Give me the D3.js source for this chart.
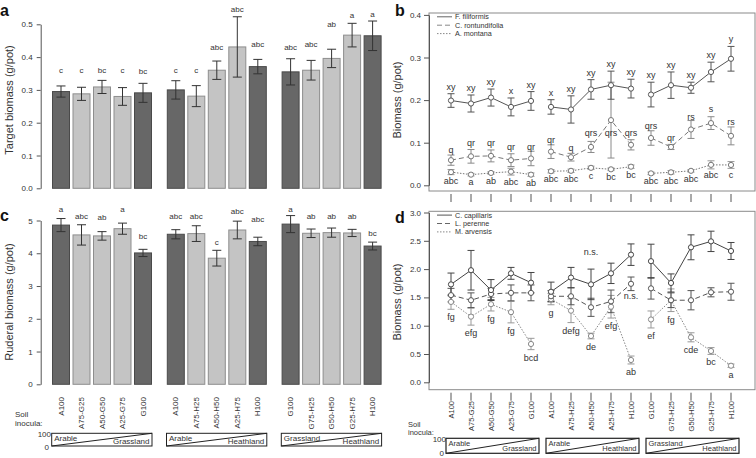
<!DOCTYPE html>
<html><head><meta charset="utf-8">
<script src="https://cdn.jsdelivr.net/npm/d3@7"></script>
<style>body{margin:0;background:#fff}svg{display:block;font-family:"Liberation Sans",Arial,sans-serif}</style>
</head><body><svg id="chart" width="756" height="458"></svg>
<script>
// ---------- data ----------
const treatments = ["A100","A75-G25","A50-G50","A25-G75","G100","A100","A75-H25","A50-H50","A25-H75","H100","G100","G75-H25","G50-H50","G25-H75","H100"];
const pureInoculum = [1,0,0,0,1, 1,0,0,0,1, 1,0,0,0,1];
const gradientEnds = [["Arable","Grassland"],["Arable","Heathland"],["Grassland","Heathland"]];

const targetMean = [0.295,0.288,0.309,0.280,0.291, 0.300,0.281,0.360,0.431,0.371, 0.355,0.360,0.396,0.467,0.465];
const targetSE   = [0.017,0.020,0.020,0.027,0.029, 0.028,0.032,0.028,0.092,0.022, 0.040,0.030,0.028,0.036,0.045];
const targetLetters = ["c","c","bc","c","bc","c","c","abc","abc","abc","abc","abc","ab","a","a"];
const targetLetterAt = [0.36,0.36,0.36,0.36,0.355, 0.36,0.36,0.428,0.544,0.439, 0.43,0.439,0.498,0.528,0.53];

const ruderalMean = [4.86,4.56,4.53,4.75,4.01, 4.58,4.60,3.85,4.71,4.36, 4.89,4.61,4.63,4.62,4.22];
const ruderalSE   = [0.20,0.31,0.13,0.17,0.11, 0.14,0.24,0.24,0.27,0.13, 0.26,0.13,0.14,0.11,0.12];
const ruderalLetters = ["a","abc","ab","a","bc","abc","abc","c","abc","abc","a","ab","ab","ab","bc"];
const ruderalLetterAt = [5.35,5.12,5.10,5.35,4.50, 5.12,5.12,4.34,5.27,5.03, 5.35,5.12,5.12,5.12,4.61];

const filiformisMean = [0.199,0.192,0.206,0.184,0.198, 0.184,0.178,0.225,0.235,0.227, 0.213,0.235,0.229,0.266,0.297];
const filiformisSE   = [0.016,0.020,0.020,0.021,0.022, 0.017,0.032,0.023,0.033,0.022, 0.029,0.031,0.013,0.023,0.029];
const filiformisLetters = ["xy","xy","xy","x","xy","x","xy","xy","xy","xy","xy","xy","xy","xy","y"];

const rotundifoliaMean = [0.059,0.068,0.069,0.059,0.063, 0.079,0.066,0.090,0.153,0.095, 0.111,0.090,0.131,0.146,0.116];
const rotundifoliaSE   = [0.012,0.016,0.014,0.015,0.017, 0.016,0.009,0.013,0.089,0.012, 0.017,0.006,0.021,0.015,0.021];
const rotundifoliaLetters = ["q","qr","qr","qr","qr","qr","q","qrs","qrs","qrs","qrs","qr","rs","s","rs"];
const rotundifoliaLetterAt = [0.083,0.099,0.099,0.089,0.089, 0.106,0.087,0.122,0.1235,0.1235, 0.1385,0.112,0.161,0.180,0.148];

const montanaMean = [0.031,0.025,0.029,0.032,0.025, 0.033,0.034,0.041,0.0375,0.0437, 0.028,0.0305,0.034,0.048,0.0477];
const montanaSE   = [0.006,0.003,0.003,0.008,0.004, 0.004,0.004,0.004,0.003,0.004, 0.003,0.004,0.003,0.0095,0.008];
const montanaLetters = ["abc","a","ab","abc","ab","abc","abc","c","bc","bc","abc","abc","abc","abc","c"];

const capillarisMean = [1.73,1.98,1.63,1.925,1.76, 1.60,1.85,1.73,1.925,2.255, 2.14,1.755,2.385,2.49,2.32];
const capillarisSE   = [0.20,0.35,0.185,0.105,0.18, 0.17,0.18,0.27,0.18,0.19, 0.30,0.16,0.22,0.18,0.15];
const perenneMean = [1.54,1.45,1.56,1.58,1.58, 1.52,1.52,1.325,1.43,1.74, 1.66,1.45,1.45,1.59,1.60];
const perenneSE   = [0.12,0.13,0.10,0.14,0.14, 0.10,0.15,0.16,0.20,0.12, 0.19,0.13,0.17,0.08,0.15];
const arvensisMean = [1.42,1.16,1.38,1.24,0.677, 1.47,1.265,0.818,1.335,0.394, 1.11,1.45,0.795,0.553,0.293];
const arvensisSE   = [0.13,0.15,0.12,0.19,0.10, 0.10,0.21,0.05,0.20,0.07, 0.15,0.20,0.08,0.06,0.03];
const arvensisLetters = ["fg","efg","fg","fg","bcd","g","defg","de","efg","ab","ef","fg","cde","bc","a"];
const nsNotes = [{i:7, v:2.30}, {i:9, v:1.525}];

const ticksA = [0,0.1,0.2,0.3,0.4,0.5];
const ticksB = [0,0.1,0.2,0.3,0.4];
const ticksC = [0,1,2,3,4,5];
const ticksD = [0,0.5,1,1.5,2,2.5,3];

// ---------- drawing ----------
const svg = d3.select("#chart");
const idx = d3.range(15);
const AX = "#555", TXT = "#333";

const barPos = k => Math.floor(k/5)*5.6 + k%5;
const xAC = d3.scaleLinear().domain([0,15.2]).range([61,372.6]);
const xBD = d3.scaleLinear().domain([0,14]).range([451,731]);
const yA = d3.scaleLinear().domain([0,0.5]).range([188.3,24.3]);
const yC = d3.scaleLinear().domain([0,5]).range([384.3,220.5]);
const yB = d3.scaleLinear().domain([0,0.4]).range([185.3,14.9]);
const yD = d3.scaleLinear().domain([0,3]).range([382.3,212.5]);

function styleAxis(g, fs){
  g.selectAll("path.domain").attr("stroke",AX);
  g.selectAll(".tick line").attr("stroke",AX);
  g.selectAll(".tick text").attr("fill",TXT).attr("font-size",fs).attr("font-family","Liberation Sans, Arial, sans-serif");
}
function panelLetter(t,x,y){
  svg.append("text").attr("x",x).attr("y",y).attr("font-size",16).attr("font-weight","bold").attr("fill","#111").text(t);
}
function yTitle(t,x,y){
  svg.append("text").attr("transform",`translate(${x},${y}) rotate(-90)`).attr("text-anchor","middle")
    .attr("dominant-baseline","central").attr("font-size",11).attr("fill",TXT).text(t);
}

function barPanel(mean, se, letters, letterAt, y, ticks, fmt, xLabelTop){
  const g = svg.append("g");
  const bw = 17;
  g.selectAll("rect.bar").data(idx).join("rect")
    .attr("x", k => xAC(barPos(k)) - bw/2).attr("width", bw)
    .attr("y", k => y(mean[k])).attr("height", k => y(0) - y(mean[k]))
    .attr("fill", k => pureInoculum[k] ? "#676767" : "#c4c4c4")
    .attr("stroke", k => pureInoculum[k] ? "#4a4a4a" : "#8e8e8e").attr("stroke-width",1);
  const eb = g.selectAll("g.eb").data(idx).join("g").attr("stroke","#333").attr("stroke-width",1);
  eb.append("line").attr("x1",k=>xAC(barPos(k))).attr("x2",k=>xAC(barPos(k)))
    .attr("y1",k=>y(mean[k]-se[k])).attr("y2",k=>y(mean[k]+se[k]));
  [1,-1].forEach(s=>eb.append("line").attr("x1",k=>xAC(barPos(k))-4.5).attr("x2",k=>xAC(barPos(k))+4.5)
    .attr("y1",k=>y(mean[k]+s*se[k])).attr("y2",k=>y(mean[k]+s*se[k])));
  g.selectAll("text.let").data(idx).join("text")
    .attr("x",k=>xAC(barPos(k))).attr("y",k=>y(letterAt[k])).attr("text-anchor","middle")
    .attr("dominant-baseline","central").attr("font-size",8).attr("fill",TXT).text(k=>letters[k]);
  const ax = svg.append("g").attr("transform","translate(40.7,0)")
    .call(d3.axisLeft(y).tickValues(ticks).tickFormat(fmt).tickSize(4).tickSizeOuter(0).tickPadding(4));
  styleAxis(ax, 8);
  if (xLabelTop){
    g.selectAll("text.xl").data(idx).join("text")
      .attr("transform",k=>`translate(${xAC(barPos(k))},${xLabelTop}) rotate(-90)`)
      .attr("text-anchor","end").attr("dominant-baseline","central").attr("font-size",8).attr("fill",TXT)
      .text(k=>treatments[k]);
  }
}

function errBars(g, x, y, mean, se, color, cap){
  const eb = g.append("g").attr("stroke",color).attr("stroke-width",1);
  idx.forEach(k=>{
    const cx = x(k), t = y(mean[k]+se[k]), b = y(mean[k]-se[k]);
    eb.append("line").attr("x1",cx).attr("x2",cx).attr("y1",t).attr("y2",b);
    eb.append("line").attr("x1",cx-cap).attr("x2",cx+cap).attr("y1",t).attr("y2",t);
    eb.append("line").attr("x1",cx-cap).attr("x2",cx+cap).attr("y1",b).attr("y2",b);
  });
}
function seriesLine(g, x, y, mean, color, dash){
  const line = d3.line().x(k=>x(k)).y(k=>y(mean[k]));
  [0,1,2].forEach(gr=>{
    g.append("path").attr("d", line(d3.range(gr*5, gr*5+5))).attr("fill","none")
      .attr("stroke",color).attr("stroke-width",1).attr("stroke-dasharray",dash);
  });
  g.selectAll(null).data(idx).join("circle").attr("cx",k=>x(k)).attr("cy",k=>y(mean[k])).attr("r",2.6)
    .attr("fill","#fff").attr("stroke",color).attr("stroke-width",1);
}
function linePanel(y, ticks, fmt, top, bottom, legend){
  const g = svg.append("g");
  g.append("rect").attr("x",429).attr("y",top).attr("width",326).attr("height",bottom-top)
    .attr("fill","none").attr("stroke","#8a8a8a").attr("stroke-width",1);
  const ax = svg.append("g").attr("transform","translate(429,0)")
    .call(d3.axisLeft(y).tickValues(ticks).tickFormat(fmt).tickSize(5).tickSizeOuter(0).tickPadding(3));
  styleAxis(ax, 8);
  g.selectAll("line.xt").data(idx).join("line").attr("x1",k=>xBD(k)).attr("x2",k=>xBD(k))
    .attr("y1",bottom+3).attr("y2",bottom+11).attr("stroke",AX);
  legend.forEach((l,j)=>{
    const ly = top + 3.8 + j*8.4;
    g.append("line").attr("x1",437).attr("x2",452).attr("y1",ly).attr("y2",ly)
      .attr("stroke",l.color).attr("stroke-dasharray",l.dash);
    g.append("text").attr("x",455).attr("y",ly).attr("dominant-baseline","central")
      .attr("font-size",7.2).attr("fill",TXT).text(l.name);
  });
  return g;
}
function gradientBoxes(x0s, x1s, top, bottom, fs, thick){
  gradientEnds.forEach((ends,gr)=>{
    const x0 = x0s[gr], x1 = x1s[gr];
    svg.append("rect").attr("x",x0).attr("y",top).attr("width",x1-x0).attr("height",bottom-top)
      .attr("fill","#fff").attr("stroke","#222").attr("stroke-width",thick);
    svg.append("line").attr("x1",x0).attr("y1",bottom).attr("x2",x1).attr("y2",top).attr("stroke","#222");
    svg.append("text").attr("x",x0+2.5).attr("y",top+fs).attr("font-size",fs).attr("fill",TXT).text(ends[0]);
    svg.append("text").attr("x",x1-2.5).attr("y",bottom-2).attr("text-anchor","end").attr("font-size",fs).attr("fill",TXT).text(ends[1]);
  });
}

// Panel a
barPanel(targetMean, targetSE, targetLetters, targetLetterAt, yA, ticksA, d3.format(".1f"), null);
panelLetter("a",0,16);
yTitle("Target biomass (g/pot)",9,100);

// Panel c
barPanel(ruderalMean, ruderalSE, ruderalLetters, ruderalLetterAt, yC, ticksC, d3.format("d"), 397);
panelLetter("c",0,221);
yTitle("Ruderal biomass (g/pot)",9,302);
svg.append("text").attr("x",15).attr("y",417).attr("font-size",8).attr("fill",TXT).text("Soil");
svg.append("text").attr("x",15).attr("y",425.5).attr("font-size",8).attr("fill",TXT).text("inocula:");
svg.append("text").attr("x",51).attr("y",437).attr("text-anchor","end").attr("font-size",8).attr("fill",TXT).text("100");
svg.append("text").attr("x",49).attr("y",449.5).attr("text-anchor","end").attr("font-size",8).attr("fill",TXT).text("0");
gradientBoxes([0,5,10].map(k=>xAC(barPos(k))-9.3), [4,9,14].map(k=>xAC(barPos(k))+9), 433.3, 446, 8, 1);

// Panel b
{
  const g = linePanel(yB, ticksB, d3.format(".1f"), 13, 191, [
    {name:"F. filiformis", color:"#666", dash:null},
    {name:"C. rontundifolia", color:"#888", dash:"5,3"},
    {name:"A. montana", color:"#888", dash:"1.5,1.5"}]);
  errBars(g, xBD, yB, montanaMean, montanaSE, "#999", 3.5);
  errBars(g, xBD, yB, rotundifoliaMean, rotundifoliaSE, "#8a8a8a", 3.5);
  errBars(g, xBD, yB, filiformisMean, filiformisSE, "#555", 3.5);
  seriesLine(g, xBD, yB, montanaMean, "#777", "1.5,1.5");
  seriesLine(g, xBD, yB, rotundifoliaMean, "#777", "5,3");
  seriesLine(g, xBD, yB, filiformisMean, "#555", null);
  const lab = (arr, yfun) => g.selectAll(null).data(idx).join("text").attr("x",k=>xBD(k)).attr("y",yfun)
      .attr("text-anchor","middle").attr("dominant-baseline","central").attr("font-size",9).attr("fill",TXT).text(k=>arr[k]);
  lab(filiformisLetters, k=>yB(filiformisMean[k]+filiformisSE[k]) - 7);
  lab(rotundifoliaLetters, k=>yB(rotundifoliaLetterAt[k]));
  lab(montanaLetters, k=>yB(montanaMean[k]-montanaSE[k]) + 6.5);
}
panelLetter("b",395,16);
yTitle("Biomass (g/pot)",397,100);

// Panel d
{
  const g = linePanel(yD, ticksD, d3.format(".1f"), 211.3, 389.7, [
    {name:"C. capillaris", color:"#555", dash:null},
    {name:"L. perenne", color:"#666", dash:"5,3"},
    {name:"M. arvensis", color:"#888", dash:"1.5,1.5"}]);
  errBars(g, xBD, yD, arvensisMean, arvensisSE, "#999", 3.5);
  errBars(g, xBD, yD, perenneMean, perenneSE, "#555", 3.5);
  errBars(g, xBD, yD, capillarisMean, capillarisSE, "#444", 3.5);
  seriesLine(g, xBD, yD, arvensisMean, "#888", "1.5,1.5");
  seriesLine(g, xBD, yD, perenneMean, "#555", "5,3");
  seriesLine(g, xBD, yD, capillarisMean, "#444", null);
  g.selectAll(null).data(idx).join("text").attr("x",k=>xBD(k)).attr("y",k=>yD(arvensisMean[k]-arvensisSE[k])+8)
    .attr("text-anchor","middle").attr("dominant-baseline","central").attr("font-size",9).attr("fill",TXT).text(k=>arvensisLetters[k]);
  nsNotes.forEach(n=>g.append("text").attr("x",xBD(n.i)).attr("y",yD(n.v)).attr("text-anchor","middle")
    .attr("dominant-baseline","central").attr("font-size",9).attr("fill",TXT).text("n.s."));
  g.selectAll(null).data(idx).join("text")
    .attr("transform",k=>`translate(${xBD(k)},401) rotate(-90)`)
    .attr("text-anchor","end").attr("dominant-baseline","central").attr("font-size",7.5).attr("fill",TXT)
    .text(k=>treatments[k]);
}
panelLetter("d",395,223);
yTitle("Biomass (g/pot)",397,302);
svg.append("text").attr("x",408).attr("y",427).attr("font-size",7.5).attr("fill",TXT).text("Soil");
svg.append("text").attr("x",408).attr("y",434.5).attr("font-size",7.5).attr("fill",TXT).text("inocula:");
svg.append("text").attr("x",446).attr("y",442).attr("text-anchor","end").attr("font-size",8).attr("fill",TXT).text("100");
svg.append("text").attr("x",444).attr("y",456).attr("text-anchor","end").attr("font-size",8).attr("fill",TXT).text("0");
gradientBoxes([0,5,10].map(k=>xBD(k)-5), [4,9,14].map(k=>xBD(k)+8), 438.3, 453.3, 7.5, 1.2);
</script></body></html>
